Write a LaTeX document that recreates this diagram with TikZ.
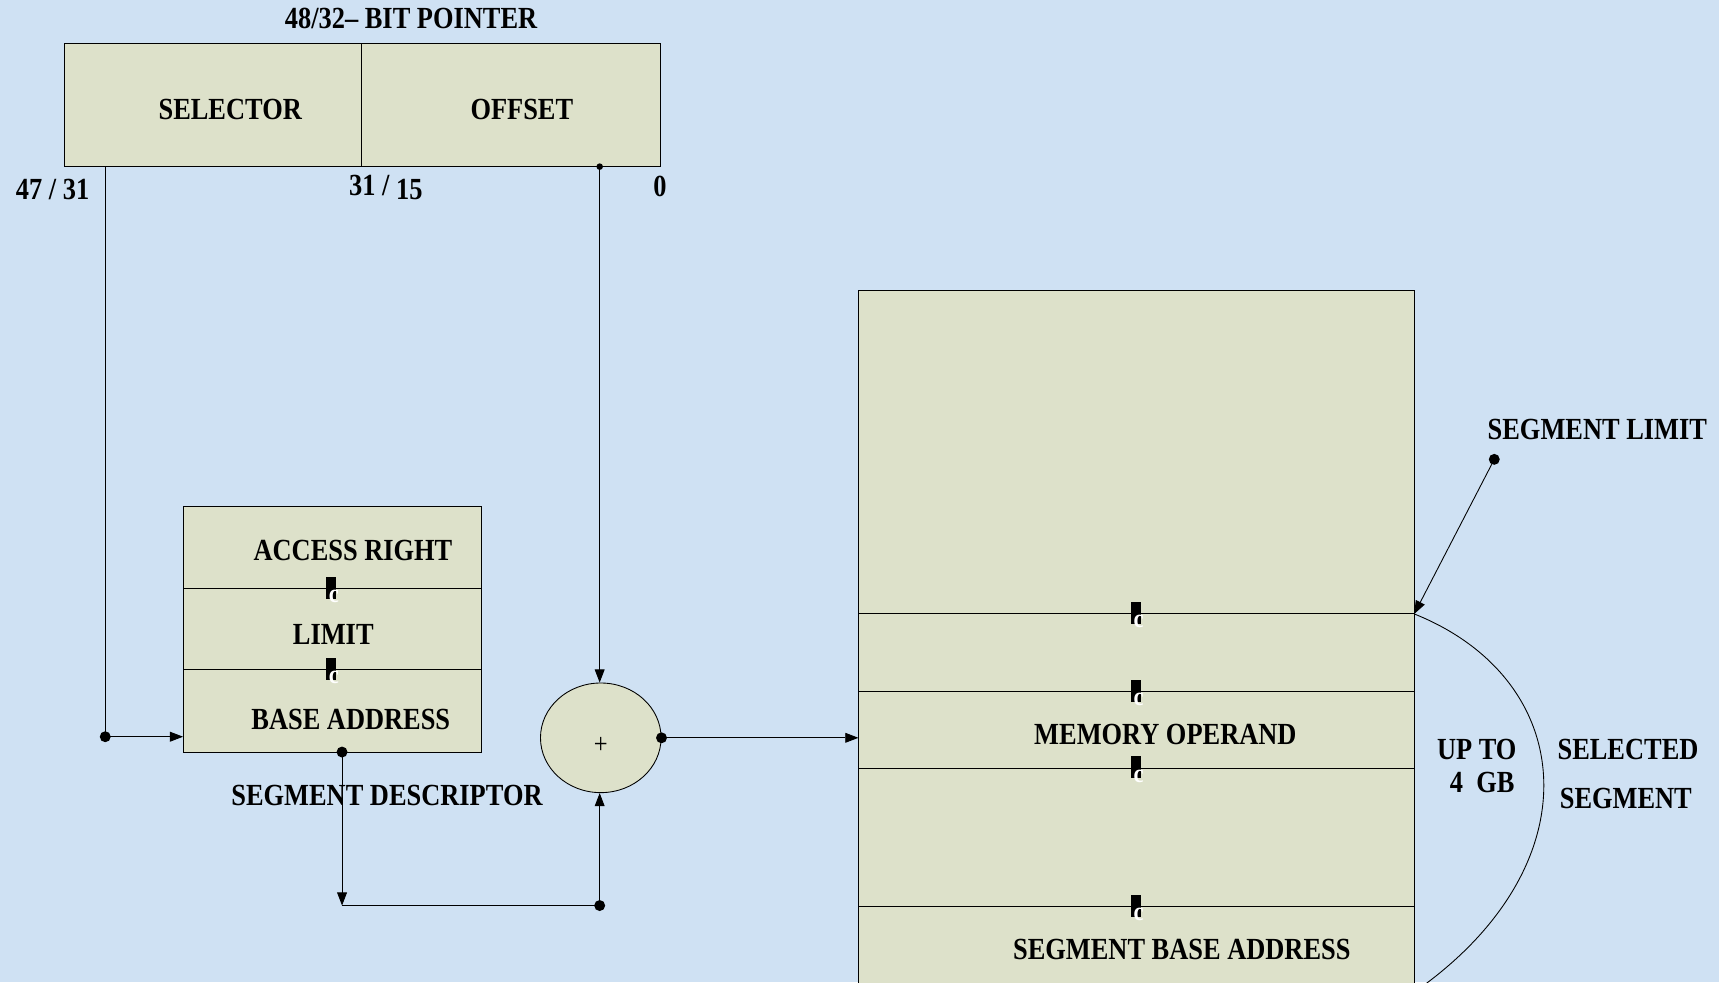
\documentclass[tikz,border=0pt]{standalone}
\usepackage{fontspec}
\setmainfont{Liberation Serif}[FakeStretch=0.86]
\usetikzlibrary{arrows.meta,positioning,calc,shapes.geometric}
\definecolor{paleblue}{RGB}{207,225,243}
\definecolor{khaki}{RGB}{221,225,202}
\newcommand{\bigbf}{\fontsize{28}{30}\selectfont\bfseries}
\newcommand{\plusfont}{\fontsize{26}{28}\selectfont}
\newcommand{\tagfont}{\fontsize{24}{24}\selectfont\bfseries}

\tikzset{
  field/.style={draw,fill=khaki,inner sep=0pt,outer sep=0pt},
  lbl/.style={font=\bigbf,inner sep=0pt},
  arr/.style={-{Triangle[length=12pt,width=9pt]}},
  dot/.style={circle,fill=black,inner sep=0pt,minimum size=10pt},
  tag/.style={fill=black,inner sep=0pt,minimum width=9pt,minimum height=20pt},
}

\begin{document}
\begin{tikzpicture}[x=1pt,y=-1pt,line width=0.8pt]
  \fill[paleblue] (0,0) rectangle (1568,896);
  \useasboundingbox (0,0) rectangle (1568,896);

  % pointer
  \node[field,minimum width=271,minimum height=112] (sel) at (194.5,96) {};
  \node[field,minimum width=272,minimum height=112,right=0pt of sel] (off) {};
  \node[lbl] at (375,17) {48/32– BIT POINTER};
  \node[lbl] at (210,100) {SELECTOR};
  \node[lbl] at (476,100) {OFFSET};
  \node[lbl] at (48,173) {47 / 31};
  \node[lbl] at (352,171) {31 / \raisebox{-4pt}{15}};
  \node[lbl] at (602,170) {0};

  % segment descriptor
  \node[field,minimum width=272,minimum height=75] (acc) at (303,499.5) {};
  \node[field,minimum width=272,minimum height=74,below=0pt of acc] (lim) {};
  \node[field,minimum width=272,minimum height=75,below=0pt of lim] (base) {};
  \node[lbl] at (322,502) {ACCESS RIGHT};
  \node[lbl] at (304,579) {LIMIT};
  \node[lbl] at (320,656) {BASE ADDRESS};
  \node[lbl] at (353,726) {SEGMENT DESCRIPTOR};

  % adder
  \node[ellipse,draw,fill=khaki,minimum width=110,minimum height=100] (plus) at (548,673) {};
  \node[font=\plusfont,inner sep=0pt] at ([yshift=-7pt]plus.center) {+};

  % memory
  \node[field,minimum width=507,minimum height=295] (mtop) at (1036.5,412.5) {};
  \node[field,minimum width=507,minimum height=71,below=0pt of mtop] (mlim) {};
  \node[field,minimum width=507,minimum height=70,below=0pt of mlim] (mop) {};
  \node[field,minimum width=507,minimum height=126,below=0pt of mop] (mmid) {};
  \node[field,minimum width=507,minimum height=78,below=0pt of mmid] (mbase) {};
  \node[lbl] at (1063,670) {MEMORY OPERAND};
  \node[lbl] at (1078,866) {SEGMENT BASE ADDRESS};

  \foreach \x/\y in {302/537,302/611,1036/560,1036/631,1036/701,1036/827} {
    \node[tag] at (\x,\y-1) {};
    \node[text=white,font=\tagfont,inner sep=0pt] at (\x+2.5,\y+7) {c};
  }

  % connectors
  \node[dot] (ljd) at (96,672) {};
  \draw (sel.south -| ljd) -- (ljd.center);
  \draw[arr] (ljd.center) -- (base.west |- ljd);
  \node[dot,minimum size=6pt] (od) at (547,152) {};
  \draw[arr] (od.center) -- (od |- plus.north);
  \node[dot] (bd) at (312,686) {};
  \coordinate (bc) at (312,826);
  \node[dot] (sd) at (547,826) {};
  \draw[arr] (bd.center) -- (bc);
  \draw (bc) -- (sd.center);
  \draw[arr] (sd.center) -- (sd |- plus.south);
  \node[dot] (pd) at (plus.east) {};
  \draw[arr] (pd.center) -- (mop.west |- pd);

  % selected segment
  \node[dot] (sl) at (1363,419) {};
  \draw[arr] (sl.center) -- (mlim.north east);
  \draw (mlim.north east) .. controls (1440,620) and (1455,790) .. (1290,905);
  \node[lbl] at (1457,392) {SEGMENT LIMIT};
  \node[lbl] at (1347,684) {UP TO};
  \node[lbl] at (1352,714) {4~~GB};
  \node[lbl] at (1485,684) {SELECTED};
  \node[lbl] at (1483,728) {SEGMENT};
\end{tikzpicture}
\end{document}
